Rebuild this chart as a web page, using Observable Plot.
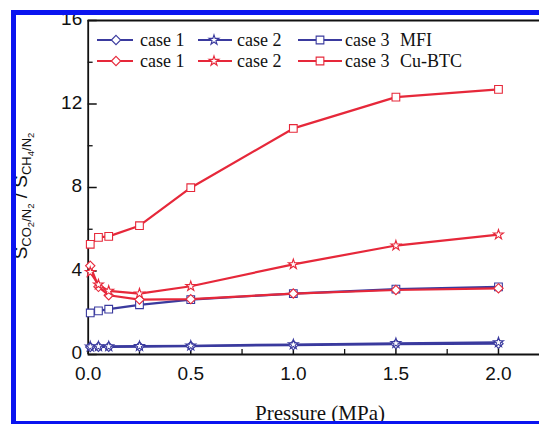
<!DOCTYPE html>
<html>
<head>
<meta charset="utf-8">
<script src="https://cdn.jsdelivr.net/npm/d3@7"></script>
<script src="https://cdn.jsdelivr.net/npm/@observablehq/plot@0.6"></script>
<style>
  html, body { margin: 0; padding: 0; background: #fff; overflow: hidden; }
  #wrap { position: relative; width: 539px; height: 424px; overflow: hidden; }
  #wrap svg { position: absolute; left: 0; top: 0; }
  #border { position: absolute; left: 11px; top: 10px; width: 560px; height: 406px;
            border: 5px solid #0a14f0; border-right: none; pointer-events: none; }
</style>
</head>
<body>
<div id="wrap"><div id="border"></div></div>
<script>
// ---- data ----
const pressure = [0.01, 0.05, 0.1, 0.25, 0.5, 1.0, 1.5, 2.0];
const mfiCase1 = [0.36, 0.37, 0.37, 0.38, 0.40, 0.45, 0.50, 0.52];
const mfiCase2 = [0.38, 0.39, 0.39, 0.40, 0.42, 0.48, 0.54, 0.58];
const mfiCase3 = [1.99, 2.09, 2.17, 2.38, 2.63, 2.92, 3.13, 3.24];
const cuCase1  = [4.25, 3.24, 2.84, 2.63, 2.65, 2.92, 3.09, 3.17];
const cuCase2  = [3.95, 3.35, 3.05, 2.92, 3.27, 4.32, 5.22, 5.74];
const cuCase3  = [5.28, 5.61, 5.66, 6.17, 7.99, 10.83, 12.33, 12.70];
const caseNames = ["case 1", "case 2", "case 3"];
const materials = ["MFI", "Cu-BTC"];
const xMajor = [0, 0.5, 1.0, 1.5, 2.0];
const xMinor = [0.25, 0.75, 1.25, 1.75];
const yMajor = [0, 4, 8, 12, 16];
const yMinor = [2, 6, 10, 14];

const BLUE = "#3a3a9e", RED = "#e6283a";
const symbols = ["diamond2", "star", "square2"];
const symbolR = [4.2, 3.1, 4.9];
const seriesList = [
  {material: "MFI", idx: 0, values: mfiCase1, color: BLUE},
  {material: "MFI", idx: 1, values: mfiCase2, color: BLUE},
  {material: "MFI", idx: 2, values: mfiCase3, color: BLUE},
  {material: "Cu-BTC", idx: 0, values: cuCase1, color: RED},
  {material: "Cu-BTC", idx: 1, values: cuCase2, color: RED},
  {material: "Cu-BTC", idx: 2, values: cuCase3, color: RED}
];

const marks = [];
// axes: tick labels
marks.push(Plot.axisX({ticks: xMajor, tickSize: 0, tickPadding: 12, tickFormat: d => d.toFixed(1),
  fontSize: 19, label: null, fill: "#111"}));
marks.push(Plot.axisY({ticks: yMajor, tickSize: 0, tickPadding: 6, tickFormat: d => String(d),
  fontSize: 19, dy: -1.5, label: null, fill: "#111"}));
// inward ticks
marks.push(Plot.ruleX(xMajor, {x: d => d, y1: 0, y2: 0.43, stroke: "#111", strokeWidth: 1.5}));
marks.push(Plot.ruleX(xMinor, {x: d => d, y1: 0, y2: 0.24, stroke: "#111", strokeWidth: 1.3}));
marks.push(Plot.ruleY(yMajor, {y: d => d, x1: 0, x2: 0.044, stroke: "#111", strokeWidth: 1.5}));
marks.push(Plot.ruleY(yMinor, {y: d => d, x1: 0, x2: 0.024, stroke: "#111", strokeWidth: 1.3}));
// frame (left, bottom, top)
marks.push(Plot.ruleX([0], {stroke: "#111", strokeWidth: 1.8}));
marks.push(Plot.ruleY([0, 16], {stroke: "#111", strokeWidth: 1.8}));

for (const s of seriesList) {
  const rows = pressure.map((p, i) => ({x: p, y: s.values[i]}));
  marks.push(Plot.line(rows, {x: "x", y: "y", stroke: s.color, strokeWidth: 2.2}));
}
for (const s of seriesList) {
  const rows = pressure.map((p, i) => ({x: p, y: s.values[i]}));
  marks.push(Plot.dot(rows, {x: "x", y: "y", symbol: () => symbols[s.idx], r: symbolR[s.idx],
    stroke: s.color, fill: "white", strokeWidth: 1.1}));
}

const chart = Plot.plot({
  width: 539, height: 424,
  marginLeft: 87.7, marginRight: 0, marginTop: 20, marginBottom: 70,
  x: {domain: [0, 2.2]},
  y: {domain: [0, 16]},
  symbol: {type: "identity"},
  style: {fontFamily: "'Liberation Sans', Arial, sans-serif", background: "transparent", overflow: "visible"},
  marks
});
document.getElementById("wrap").prepend(chart);

// ---- legend, axis titles (real text) ----
const svg = d3.select(chart);
const legendRows = [{material: materials[0], color: BLUE, y: 40}, {material: materials[1], color: RED, y: 61}];
const cols = [{x1: 97, x2: 133, m: 116, t: 140}, {x1: 198, x2: 232, m: 214, t: 237}, {x1: 298, x2: 342, m: 320, t: 345}];
const symbolMap = {diamond2: d3.symbolDiamond2, star: d3.symbolStar, square2: d3.symbolSquare2};
const lg = svg.append("g").attr("font-family", "'Liberation Serif', 'Times New Roman', serif")
  .attr("font-size", 18).attr("text-anchor", "start");
for (const row of legendRows) {
  cols.forEach((c, i) => {
    lg.append("line").attr("x1", c.x1).attr("x2", c.x2).attr("y1", row.y).attr("y2", row.y)
      .attr("stroke", row.color).attr("stroke-width", 2);
    lg.append("path").attr("transform", `translate(${c.m},${row.y})`)
      .attr("d", d3.symbol(symbolMap[symbols[i]], Math.PI * symbolR[i] * symbolR[i])())
      .attr("fill", "white").attr("stroke", row.color).attr("stroke-width", 1.1);
    lg.append("text").attr("x", c.t).attr("y", row.y + 6).attr("fill", "#111").text(caseNames[i]);
  });
  lg.append("text").attr("x", 400).attr("y", row.y + 6).attr("fill", "#111").text(row.material);
}

svg.append("text").attr("x", 320).attr("y", 420).attr("text-anchor", "middle")
  .attr("font-family", "'Liberation Serif', 'Times New Roman', serif").attr("font-size", 21)
  .attr("fill", "#111").text("Pressure (MPa)");

const yl = svg.append("text").attr("transform", "translate(27,196) rotate(-90)")
  .attr("text-anchor", "middle").attr("font-family", "'Liberation Sans', Arial, sans-serif")
  .attr("fill", "#111").attr("font-size", 19);
function part(txt, size, dy) { yl.append("tspan").attr("font-size", size).attr("dy", dy).text(txt); }
part("S", 19, 0);
part("CO", 13, 4);
part("2", 9.5, 3);
part("/N", 13, -3);
part("2", 9.5, 3);
part(" / S", 19, -7);
part("CH", 13, 4);
part("4", 9.5, 3);
part("/N", 13, -3);
part("2", 9.5, 3);
</script>
</body>
</html>
